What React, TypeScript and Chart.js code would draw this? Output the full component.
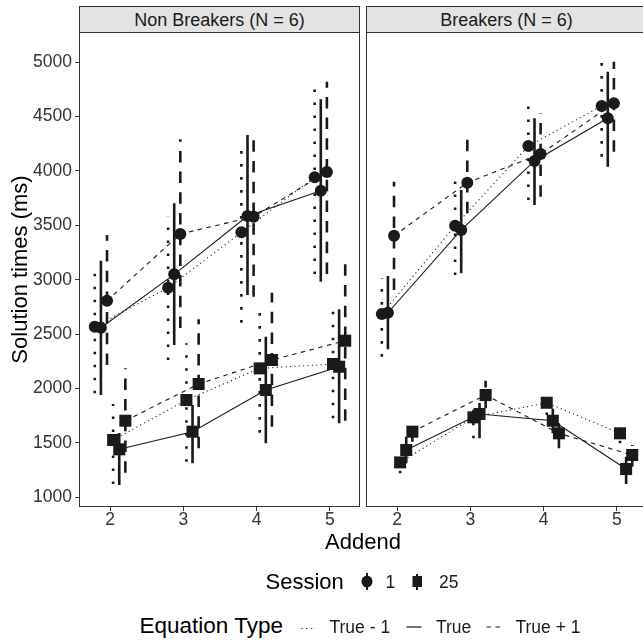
import React, { useEffect, useRef } from "react";
import { Chart, registerables } from "chart.js";

Chart.register(...registerables);

const FONT = "'Liberation Sans', Arial, Helvetica, sans-serif";
const INK = "#1a1a1a";
const AXIS = "#333333";

const addends = [2, 3, 4, 5];
const yTickValues = [1000, 1500, 2000, 2500, 3000, 3500, 4000, 4500, 5000];
const sessionLabels = ["1", "25"];
const equationTypes = ["True - 1", "True", "True + 1"];
const panelTitles = ["Non Breakers (N = 6)", "Breakers (N = 6)"];
const yTitle = "Solution times (ms)";
const xTitle = "Addend";

// Row order: Session 1 (True - 1, True, True + 1), Session 25 (True - 1, True, True + 1)
const nonBreakersMean = [
  [2568, 2926, 3435, 3941],
  [2558, 3049, 3585, 3818],
  [2807, 3420, 3579, 3990],
  [1527, 1894, 2185, 2225],
  [1441, 1603, 1986, 2200],
  [1704, 2041, 2262, 2439],
];
const nonBreakersLow = [
  [1956, 2262, 2605, 3052],
  [1940, 2400, 2859, 2981],
  [2216, 2556, 2843, 3052],
  [1122, 1327, 1594, 1726],
  [1113, 1312, 1496, 1680],
  [1226, 1450, 1649, 1704],
];
const nonBreakersHigh = [
  [3150, 3579, 4268, 4835],
  [3175, 3702, 4330, 4658],
  [3410, 4290, 4330, 4819],
  [1857, 2415, 2783, 2783],
  [1590, 1848, 2476, 2728],
  [2185, 2636, 2880, 3165],
];

const breakersMean = [
  [2684, 3496, 4228, 4597],
  [2696, 3457, 4091, 4483],
  [3404, 3891, 4155, 4621],
  [1321, 1735, 1869, 1588],
  [1435, 1766, 1704, 1260],
  [1603, 1940, 1588, 1389],
];
const breakersLow = [
  [2292, 3043, 3732, 4130],
  [2360, 3059, 3686, 4038],
  [2905, 3610, 3763, 4176],
  [1220, 1542, 1756, 1496],
  [1312, 1542, 1588, 1122],
  [1511, 1818, 1450, 1281],
];
const breakersHigh = [
  [3013, 3978, 4682, 5065],
  [3034, 3824, 4483, 4911],
  [3900, 4299, 4529, 5003],
  [1373, 1833, 1986, 1680],
  [1557, 1866, 1815, 1373],
  [1665, 2072, 1680, 1480],
];

const X_MIN = 1.576;
const X_MAX = 5.41;
const Y_MIN = 911;
const Y_MAX = 5276;
const DODGE = 0.5;

const thinDash = [[1.1, 3.3], [], [4.5, 4.5]];
const thickDash = [[2.6, 10.4], [], [11.5, 9.2]];

const panelBorder = {
  id: "panelBorder",
  afterDraw(chart: any) {
    const { ctx, chartArea: a } = chart;
    ctx.save();
    ctx.strokeStyle = AXIS;
    ctx.lineWidth = 1;
    ctx.strokeRect(a.left + 0.5, a.top + 0.5, a.right - a.left - 1, a.bottom - a.top - 1);
    ctx.restore();
  },
};

function buildDatasets(mean: number[][], low: number[][], high: number[][]) {
  const n = mean.length;
  const off = mean.map((_, g) => (g - (n - 1) / 2) * (DODGE / n));
  const points: any[] = [];
  const lines: any[] = [];
  const bars: any[] = [];
  mean.forEach((row, g) => {
    const isS1 = g < 3;
    const et = g % 3;
    const pts = addends.map((a, i) => ({ x: a + off[g], y: row[i] }));
    points.push({
      label: `Session ${sessionLabels[isS1 ? 0 : 1]} ${equationTypes[et]}`,
      data: pts,
      showLine: false,
      pointStyle: isS1 ? "circle" : "rect",
      pointRadius: isS1 ? 6 : 8.5,
      pointHoverRadius: isS1 ? 6 : 8.5,
      pointBackgroundColor: INK,
      pointBorderColor: INK,
      pointBorderWidth: 0,
    });
    lines.push({
      data: pts,
      showLine: true,
      borderColor: INK,
      borderWidth: 1.1,
      borderDash: thinDash[et],
      pointRadius: 0,
      pointHoverRadius: 0,
      fill: false,
    });
    const eb: any[] = [];
    addends.forEach((a, i) => {
      eb.push({ x: a + off[g], y: low[g][i] });
      eb.push({ x: a + off[g], y: high[g][i] });
      eb.push({ x: a + off[g], y: null });
    });
    bars.push({
      data: eb,
      showLine: true,
      spanGaps: false,
      borderColor: INK,
      borderWidth: 2.6,
      borderDash: thickDash[et],
      borderCapStyle: "butt",
      pointRadius: 0,
      pointHoverRadius: 0,
      fill: false,
    });
  });
  return [...points, ...lines, ...bars];
}

function makeConfig(mean: number[][], low: number[][], high: number[][], showY: boolean): any {
  return {
    type: "scatter",
    data: { datasets: buildDatasets(mean, low, high) },
    options: {
      animation: false,
      responsive: false,
      events: [],
      layout: {
        autoPadding: false,
        padding: showY ? { top: 14, left: 0, right: 0, bottom: 0 } : { top: 14, left: 3, right: 6, bottom: 0 },
      },
      plugins: { legend: { display: false }, tooltip: { enabled: false } },
      scales: {
        x: {
          type: "linear",
          min: X_MIN,
          max: X_MAX,
          bounds: "data",
          afterBuildTicks: (s: any) => {
            s.ticks = addends.map((v) => ({ value: v }));
          },
          afterFit: (s: any) => {
            s.height = 24;
          },
          ticks: {
            autoSkip: false,
            maxRotation: 0,
            padding: 0,
            color: AXIS,
            font: { family: FONT, size: 17.5, lineHeight: 1 },
            callback: (v: any) => String(v),
          },
          grid: {
            display: true,
            drawOnChartArea: false,
            drawTicks: true,
            tickLength: 4,
            color: AXIS,
            tickColor: AXIS,
            lineWidth: 1,
          },
          border: { display: false },
        },
        y: {
          type: "linear",
          display: showY,
          min: Y_MIN,
          max: Y_MAX,
          bounds: "data",
          afterBuildTicks: (s: any) => {
            s.ticks = yTickValues.map((v) => ({ value: v }));
          },
          afterFit: (s: any) => {
            s.width = showY ? 79 : 0;
          },
          ticks: {
            autoSkip: false,
            padding: 3,
            color: AXIS,
            font: { family: FONT, size: 17.5 },
            callback: (v: any) => String(v),
          },
          grid: {
            display: true,
            drawOnChartArea: false,
            drawTicks: true,
            tickLength: 4,
            color: AXIS,
            tickColor: AXIS,
            lineWidth: 1,
          },
          border: { display: false },
          title: {
            display: true,
            text: yTitle,
            color: "#000",
            font: { family: FONT, size: 22 },
            padding: { top: 8, bottom: 0 },
          },
        },
      },
    },
    plugins: [panelBorder],
  };
}

const abs = (o: React.CSSProperties): React.CSSProperties => ({
  position: "absolute",
  whiteSpace: "nowrap",
  lineHeight: 1,
  ...o,
});

export default function App() {
  const leftRef = useRef<HTMLCanvasElement>(null);
  const rightRef = useRef<HTMLCanvasElement>(null);

  useEffect(() => {
    const c1 = new Chart(leftRef.current as HTMLCanvasElement, makeConfig(nonBreakersMean, nonBreakersLow, nonBreakersHigh, true));
    const c2 = new Chart(rightRef.current as HTMLCanvasElement, makeConfig(breakersMean, breakersLow, breakersHigh, false));
    return () => {
      c1.destroy();
      c2.destroy();
    };
  }, []);

  const stripStyle = (left: number): React.CSSProperties => ({
    position: "absolute",
    left,
    top: 6,
    width: 281,
    height: 27,
    boxSizing: "border-box",
    border: `1px solid ${AXIS}`,
    background: "#e3e3e3",
    color: INK,
    fontSize: 18,
    display: "flex",
    alignItems: "center",
    justifyContent: "center",
    whiteSpace: "nowrap",
    lineHeight: 1,
  });

  return (
    <div
      style={{
        position: "fixed",
        left: 0,
        top: 0,
        width: 643,
        height: 644,
        overflow: "hidden",
        background: "#fff",
        fontFamily: FONT,
        color: "#000",
      }}
    >
      <canvas ref={leftRef} width={360} height={513} style={{ position: "absolute", left: 0, top: 18, width: 360, height: 513 }} />
      <canvas ref={rightRef} width={290} height={513} style={{ position: "absolute", left: 363, top: 18, width: 290, height: 513 }} />

      <div style={stripStyle(79)}>
        <span style={{ marginTop: 1 }}>{panelTitles[0]}</span>
      </div>
      <div style={stripStyle(366)}>
        <span style={{ marginTop: 1 }}>{panelTitles[1]}</span>
      </div>

      <div style={abs({ fontSize: 22, left: 363, top: 530.5, transform: "translateX(-50%)" })}>{xTitle}</div>

      <div style={abs({ fontSize: 22, left: 265.5, top: 570.7 })}>Session</div>
      <svg style={{ position: "absolute", left: 359, top: 572 }} width={16} height={20}>
        <line x1={8} y1={1} x2={8} y2={18} stroke={INK} strokeWidth={2} />
        <ellipse cx={8} cy={9.5} rx={5.5} ry={6} fill={INK} />
      </svg>
      <div style={abs({ fontSize: 17.5, left: 385.5, top: 573.5, color: INK })}>{sessionLabels[0]}</div>
      <svg style={{ position: "absolute", left: 409, top: 572 }} width={16} height={20}>
        <line x1={8} y1={2} x2={8} y2={18} stroke={INK} strokeWidth={2} />
        <rect x={3.5} y={4} width={9.5} height={11} fill={INK} />
      </svg>
      <div style={abs({ fontSize: 17.5, left: 439, top: 573.5, color: INK })}>{sessionLabels[1]}</div>

      <div style={abs({ fontSize: 22.5, left: 139.5, top: 615 })}>Equation Type</div>
      <svg style={{ position: "absolute", left: 300, top: 620 }} width={18} height={16}>
        <line x1={1.5} y1={8.5} x2={16} y2={8.5} stroke={INK} strokeWidth={1.2} strokeDasharray="1.2 3.6" />
      </svg>
      <div style={abs({ fontSize: 17.5, left: 329.5, top: 619.2, color: INK })}>{equationTypes[0]}</div>
      <svg style={{ position: "absolute", left: 405, top: 619 }} width={18} height={16}>
        <line x1={1.5} y1={8} x2={16.5} y2={8} stroke={INK} strokeWidth={1.2} />
      </svg>
      <div style={abs({ fontSize: 17.5, left: 436, top: 619.2, color: INK })}>{equationTypes[1]}</div>
      <svg style={{ position: "absolute", left: 485, top: 619 }} width={18} height={16}>
        <line x1={1.5} y1={8} x2={16.5} y2={8} stroke={INK} strokeWidth={1.2} strokeDasharray="4.5 4.5" />
      </svg>
      <div style={abs({ fontSize: 17.5, left: 515.5, top: 619.2, color: INK })}>{equationTypes[2]}</div>
    </div>
  );
}
